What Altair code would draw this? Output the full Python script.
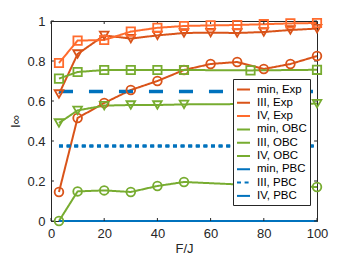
import altair as alt
import pandas as pd

# ---- data ----
x_exp = [3, 10, 20, 30, 40, 50, 60, 70, 80, 90, 100]
min_exp = [0.145, 0.515, 0.59, 0.655, 0.70, 0.755, 0.785, 0.795, 0.76, 0.785, 0.825]
iii_exp = [0.635, 0.835, 0.928, 0.912, 0.928, 0.94, 0.942, 0.94, 0.945, 0.955, 0.962]
iv_exp = [0.79, 0.902, 0.905, 0.947, 0.966, 0.975, 0.978, 0.98, 0.984, 0.988, 0.99]

x_obc = [3, 10, 20, 30, 40, 50, 75, 100]
min_obc = [0.0, 0.148, 0.153, 0.145, 0.175, 0.195, 0.18, 0.17]
iii_obc = [0.49, 0.553, 0.577, 0.58, 0.58, 0.583, 0.585, 0.587]
iv_obc = [0.712, 0.745, 0.755, 0.755, 0.755, 0.755, 0.753, 0.756]

x_pbc = [3, 100]
min_pbc = [0.0, 0.0]
iii_pbc = [0.375, 0.375]
iv_pbc = [0.647, 0.647]

x_ticks = [0, 20, 40, 60, 80, 100]
y_ticks = [0, 0.2, 0.4, 0.6, 0.8, 1.0]

names = ["min, Exp", "III, Exp", "IV, Exp",
         "min, OBC", "III, OBC", "IV, OBC",
         "min, PBC", "III, PBC", "IV, PBC"]
series = [(x_exp, min_exp), (x_exp, iii_exp), (x_exp, iv_exp),
          (x_obc, min_obc), (x_obc, iii_obc), (x_obc, iv_obc),
          (x_pbc, min_pbc), (x_pbc, iii_pbc), (x_pbc, iv_pbc)]

# ---- styles ----
ORANGE = "#D95319"
LORANGE = "#FF6B2D"
GREEN = "#77AC30"
BLUE = "#0072BD"
AX = "#262626"
colors = [ORANGE, ORANGE, LORANGE, GREEN, GREEN, GREEN, BLUE, BLUE, BLUE]
dashes = [[1, 0], [1, 0], [1, 0], [1, 0], [1, 0], [1, 0], [1, 0], [4, 3.6], [14, 16]]

rows = []
for name, (xs, ys) in zip(names, series):
    for xv, yv in zip(xs, ys):
        rows.append({"series": name, "x": xv, "y": yv})
df = pd.DataFrame(rows)

xs_ = alt.Scale(domain=[0, 100], nice=False)
ys_ = alt.Scale(domain=[0, 1], nice=False)
x_axis = alt.Axis(values=x_ticks, ticks=False, grid=False, labelPadding=6,
                  titlePadding=2, format="d", labelOverlap=False, labelFlush=False)
y_axis = alt.Axis(values=y_ticks, ticks=False, grid=False, labelPadding=6,
                  titlePadding=4, labelOverlap=False, labelFlush=False, format="~g")
X = alt.X("x:Q", scale=xs_, title="F/J", axis=x_axis)
Y = alt.Y("y:Q", scale=ys_, title="I∞", axis=y_axis)

col_scale = alt.Scale(domain=names, range=colors)
dash_scale = alt.Scale(domain=names, range=dashes)

leg = alt.Legend(title=None, orient="none", legendX=182, legendY=58,
                 symbolSize=169, symbolStrokeWidth=2,
                 labelFontSize=11.5, labelFont="Liberation Sans", labelColor="#000",
                 labelOffset=6, rowPadding=0.3, padding=3,
                 strokeColor=AX, fillColor="white", labelLimit=200)

lines = alt.Chart(df).mark_line(strokeWidth=2).encode(
    x=X, y=Y,
    color=alt.Color("series:N", scale=col_scale, legend=leg),
    strokeDash=alt.StrokeDash("series:N", scale=dash_scale, legend=None),
    order=alt.Order("x:Q"),
)

# thicker PBC reference lines drawn over the thin ones
pbc_lines = alt.Chart(df).transform_filter(
    alt.FieldOneOfPredicate(field="series", oneOf=["III, PBC", "IV, PBC"])
).mark_line(strokeWidth=3.5).encode(
    x=X, y=Y,
    color=alt.Color("series:N", scale=col_scale, legend=None),
    strokeDash=alt.StrokeDash("series:N", scale=dash_scale, legend=None),
    order=alt.Order("x:Q"),
)

def pts(sel, shape, size):
    return alt.Chart(df).transform_filter(
        alt.FieldOneOfPredicate(field="series", oneOf=sel)
    ).mark_point(shape=shape, filled=False, size=size, strokeWidth=1.8, opacity=1).encode(
        x=X, y=Y,
        color=alt.Color("series:N", scale=col_scale, legend=None),
    )

circles = pts(["min, Exp", "min, OBC"], "circle", 75)
tris = pts(["III, Exp", "III, OBC"], "triangle-down", 75)
squares = pts(["IV, Exp", "IV, OBC"], "square", 70)

# inward tick marks (MATLAB style)
tk = []
for t in x_ticks:
    tk.append({"x": t, "x2": t, "y": 0, "y2": 0.015})
    tk.append({"x": t, "x2": t, "y": 1, "y2": 0.985})
for t in y_ticks:
    tk.append({"x": 0, "x2": 1.1, "y": t, "y2": t})
    tk.append({"x": 100, "x2": 98.9, "y": t, "y2": t})
ticks = alt.Chart(pd.DataFrame(tk)).mark_rule(color=AX, strokeWidth=1).encode(
    x=X, x2="x2:Q", y=Y, y2="y2:Q",
)

chart = alt.layer(lines, ticks, pbc_lines, circles, tris, squares).properties(
    width=266, height=200,
    autosize=alt.AutoSizeParams(type="none"),
    padding={"left": 43, "top": 13, "right": 25, "bottom": 34},
    background="white",
).configure_view(stroke=AX, strokeWidth=1).configure_axis(
    domainColor=AX, labelColor=AX, titleColor=AX,
    labelFont="Liberation Sans", titleFont="Liberation Sans",
    labelFontSize=13, titleFontSize=13, titleFontWeight="normal",
)

chart.save("out.html", embed_options={"renderer": "svg", "actions": False})
